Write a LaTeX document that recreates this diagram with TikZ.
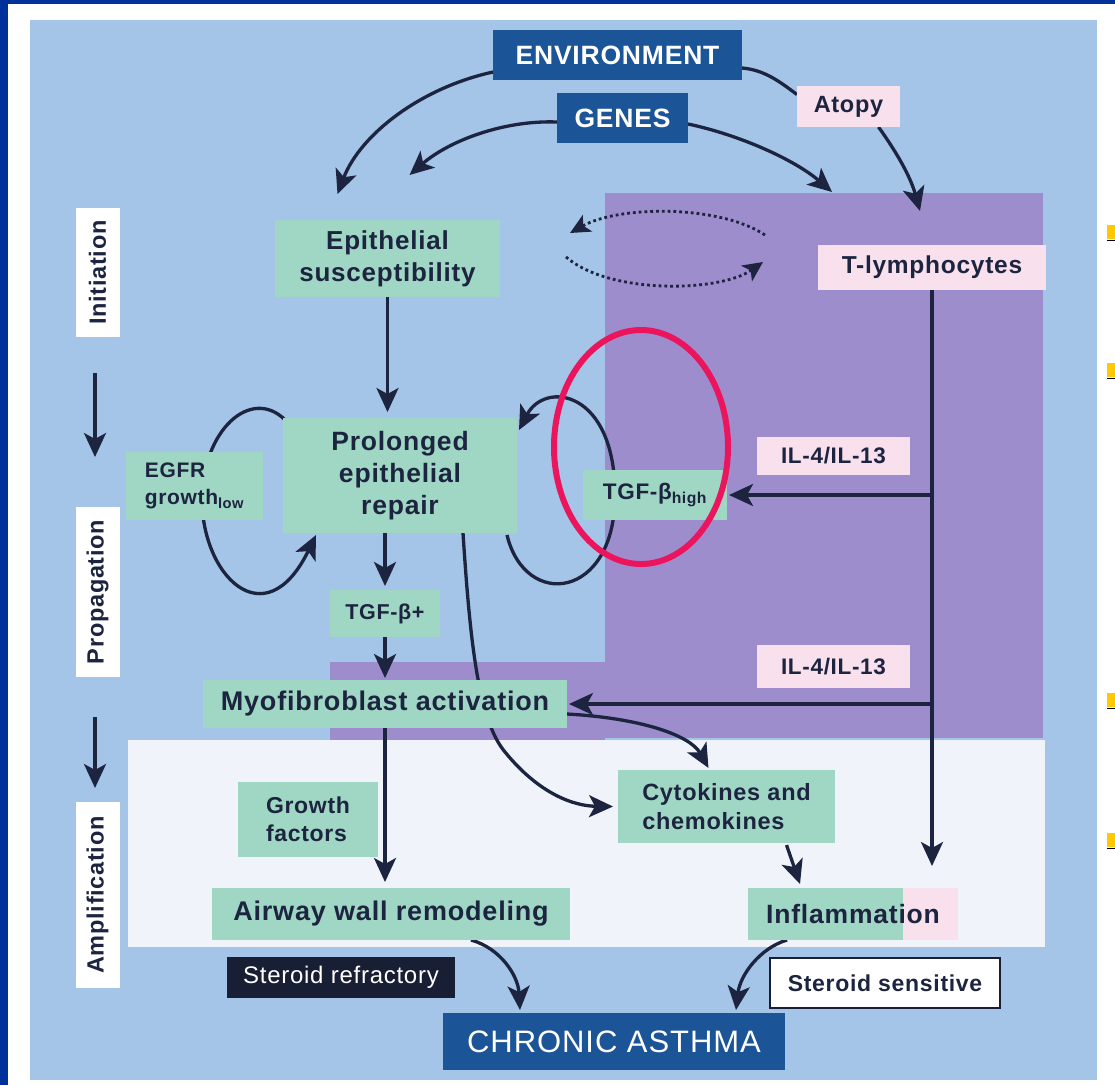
\documentclass[tikz,border=0pt]{standalone}
\usepackage{fontspec}
\setmainfont{Liberation Sans}[LetterSpace=3]
\usetikzlibrary{arrows.meta,calc}
\pgfdeclarelayer{bg}
\pgfdeclarelayer{edges}
\pgfsetlayers{bg,edges,main}
\definecolor{slide}{RGB}{0,48,154}
\definecolor{panel}{RGB}{164,196,232}
\definecolor{purp}{RGB}{157,141,204}
\definecolor{wreg}{RGB}{240,244,250}
\definecolor{mint}{RGB}{160,214,196}
\definecolor{pinkc}{RGB}{248,224,236}
\definecolor{dblue}{RGB}{28,84,152}
\definecolor{navy}{RGB}{24,30,52}
\definecolor{ink}{RGB}{28,36,64}
\definecolor{redc}{RGB}{236,20,92}
\definecolor{gold}{RGB}{255,200,0}
\tikzset{
  base/.style={inner sep=0pt, outer sep=0pt, align=center, text=ink},
  gbox/.style={base, fill=mint},
  pbox/.style={base, fill=pinkc},
  dbox/.style={base, fill=dblue, text=white},
  fb/.style 2 args={font=\bfseries\fontsize{#1}{#2}\selectfont},
  fr/.style 2 args={font=\fontsize{#1}{#2}\selectfont},
  wlab/.style={base, fill=white, rotate=90, minimum height=44pt, fb={23.5}{26}},
  arr/.style={draw=ink, line width=3.3pt, -{Stealth[length=24pt,width=22pt,inset=6pt]}},
  lnk/.style={draw=ink, line width=3.3pt},
  dots/.style={draw=ink, line width=2.8pt, dash pattern=on 2.8pt off 3pt, -{Stealth[length=20pt,width=19pt,inset=5pt]}},
}
\begin{document}
\begin{tikzpicture}[x=1pt,y=-1pt]
\useasboundingbox (0,0) rectangle (1115,1085);
\begin{pgfonlayer}{bg}
  \fill[white] (0,0) rectangle (1115,1085);
  \fill[slide] (0,0) rectangle (1115,4);
  \fill[slide] (0,0) rectangle (8,1085);
  \fill[panel] (30,20) rectangle (1097,1080);
  \fill[purp] (605,193) rectangle (1043,738);
  \fill[purp] (330,662) rectangle (605,740);
  \fill[wreg] (128,740) rectangle (1045,947);
  \foreach \yy in {225,363,693,833}{
    \fill[gold] (1107,\yy) rectangle (1115,\yy+14);
    \draw[black, line width=1pt] (1107,\yy+15) -- (1115,\yy+15);
  }
\end{pgfonlayer}

% nodes
\node[dbox, fb={26.5}{30}, minimum width=249pt, minimum height=50pt] (env) at (617.5,55) {ENVIRONMENT};
\node[dbox, fb={26.5}{30}, minimum width=131pt, minimum height=50pt] (genes) at (622.5,118) {GENES};
\node[pbox, fb={23.5}{27}, minimum width=103pt, minimum height=41pt] (atopy) at (848.5,106.5) {Atopy};
\node[gbox, fb={26}{32}, minimum width=225pt, minimum height=77pt] (epi) at (387.5,258.5) {Epithelial\\susceptibility};
\node[pbox, fb={24.5}{28}, minimum width=228pt, minimum height=45pt] (tlym) at (932,267.5) {T-lymphocytes};
\node[wlab, minimum width=129pt] (init) at (97.5,272.5) {Initiation};
\node[gbox, fb={26.5}{32}, minimum width=234pt, minimum height=115pt] (prol) at (400,475.5) {Prolonged\\epithelial\\repair};
\node[gbox, fb={21}{27}, minimum width=137pt, minimum height=68pt, align=left] (egfr) at (194.5,486) {EGFR\\growth\textsubscript{low}};
\node[gbox, fb={22.5}{26}, minimum width=144pt, minimum height=50pt] (tgfh) at (655,495) {TGF-β\textsubscript{high}};
\node[pbox, fb={22.5}{26}, minimum width=153pt, minimum height=38pt] (il1) at (833.5,456) {IL-4/IL-13};
\node[pbox, fb={22.5}{26}, minimum width=153pt, minimum height=43pt] (il2) at (833.5,666.5) {IL-4/IL-13};
\node[wlab, minimum width=170pt] (prop) at (97.5,592) {Propagation};
\node[gbox, fb={21.5}{26}, minimum width=110pt, minimum height=47pt] (tgfp) at (385,613.5) {TGF-β+};
\node[gbox, fb={27}{32}, minimum width=364pt, minimum height=48pt] (myo) at (385,704) {Myofibroblast activation};
\node[wlab, minimum width=186pt] (ampl) at (97.5,895) {Amplification};
\node[gbox, fb={23}{28}, minimum width=140pt, minimum height=75pt, align=left] (grow) at (308,819.5) {Growth\\factors};
\node[gbox, fb={23.5}{29}, minimum width=217pt, minimum height=73pt, align=left] (cyto) at (726.5,806.5) {Cytokines and\\chemokines};
\node[gbox, fb={27}{32}, minimum width=358pt, minimum height=52pt] (airw) at (391,914) {Airway wall remodeling};
\node[gbox, fb={26.5}{32}, minimum width=210pt, minimum height=52pt,
  path picture={\fill[pinkc] ([xshift=-55pt]path picture bounding box.north east) rectangle (path picture bounding box.south east);}] (infl) at (853,914) {Inflammation};
\node[base, fill=navy, text=white, fr={24}{28}, minimum width=228pt, minimum height=41pt] (sref) at (341,977.5) {Steroid refractory};
\node[base, fill=white, draw=navy, line width=2pt, fb={23}{27}, minimum width=230pt, minimum height=50pt] (ssen) at (885,983) {Steroid sensitive};
\node[dbox, fr={31}{35}, minimum width=342pt, minimum height=57pt] (chro) at (614,1041.5) {CHRONIC ASTHMA};

% connectors
\begin{pgfonlayer}{edges}
  \draw[arr] ($(env.west)+(0,17)$) .. controls (420,88) and (360,135) .. ($(epi.north)+(-50,-26)$);
  \draw[arr] ($(genes.west)+(0,4)$) .. controls (505,120) and (450,140) .. ($(epi.north)+(22,-45)$);
  \draw[lnk] ($(env.east)+(0,13)$) .. controls (765,70) and (780,82) .. ($(atopy.west)+(0,-12)$);
  \draw[arr] ($(atopy.south)+(30,0)$) .. controls (895,150) and (910,175) .. ($(tlym.north)+(-12,-34)$);
  \draw[arr] ($(genes.east)+(0,6)$) .. controls (740,135) and (795,160) .. ($(tlym.north west)+(14,-53)$);
  \coordinate (dr1) at (765,235);
  \coordinate (dl1) at (570,233);
  \coordinate (dl2) at (566,257);
  \coordinate (dr2) at (763,262);
  \draw[dots] (dr1) .. controls (720,205) and (620,205) .. (dl1);
  \draw[dots] (dl2) .. controls (610,295) and (720,292) .. (dr2);
  \draw[arr, shorten >=6pt] (epi.south) -- (epi.south |- prol.north);
  \draw[arr] ($(prol.north west)+(5,5)$) .. controls (255,385) and (205,425) .. (202,495) .. controls (200,575) and (265,640) .. ($(prol.south west)+(33,2)$);
  \draw[arr] ($(prol.south east)+(-10,2)$) .. controls (525,610) and (615,600) .. (615,495) .. controls (615,390) and (545,380) .. ($(prol.north east)+(2,12)$);
  \draw[arr, shorten >=4pt] (tgfp.north |- prol.south) -- (tgfp.north);
  \draw[arr, shorten >=2pt] (tgfp.south) -- (tgfp.south |- myo.north);
  \draw[arr] ($(prol.south)+(63,0)$) .. controls (470,640) and (478,720) .. (505,752) .. controls (540,795) and (575,806) .. ($(cyto.west)+(-5,0)$);
  \draw[arr] ($(myo.east)+(0,10)$) .. controls (640,718) and (690,735) .. ($(cyto.north)+(-18,-2)$);
  \draw[arr, shorten >=22pt] (tlym.south) -- (tlym.south |- infl.north);
  \draw[arr, shorten >=2pt] (tlym.south |- tgfh.east) -- (tgfh.east);
  \draw[arr, shorten >=2pt] (tlym.south |- myo.east) -- (myo.east);
  \draw[arr, shorten >=6pt] (myo.south) -- (myo.south |- airw.north);
  \draw[arr] ($(cyto.south)+(60,2)$) -- ($(infl.north)+(-53,-4)$);
  \draw[arr] ($(airw.south)+(80,0)$) .. controls (500,948) and (518,975) .. ($(chro.north)+(-94,-3)$);
  \draw[arr] ($(infl.south)+(-66,0)$) .. controls (760,948) and (740,975) .. ($(chro.north)+(122,-3)$);
  \draw[arr] ($(init.west)+(-2.5,36)$) -- ($(prop.east)+(-2.5,-50)$);
  \draw[arr] ($(prop.west)+(-2.5,40)$) -- ($(ampl.east)+(-2.5,-14)$);
\end{pgfonlayer}

\draw[redc, line width=6pt] (641,447) ellipse [x radius=87, y radius=117];
\end{tikzpicture}
\end{document}
